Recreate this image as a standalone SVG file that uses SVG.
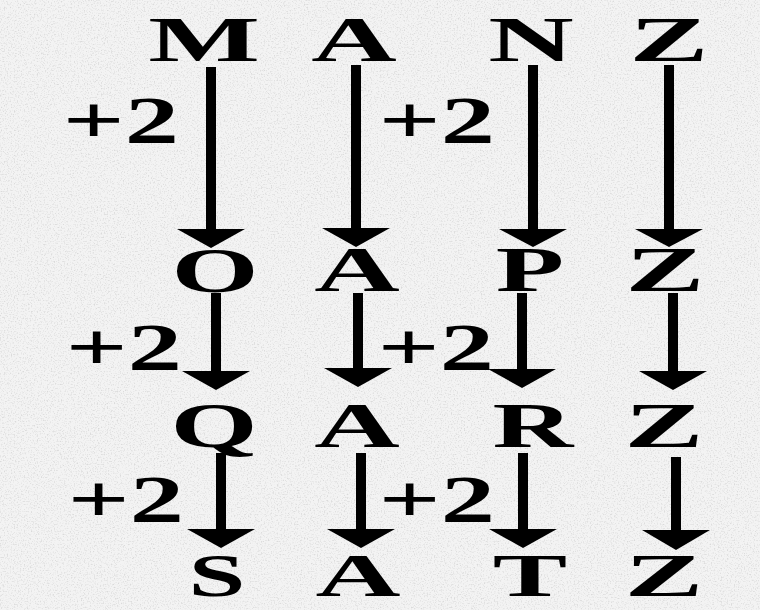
<svg xmlns="http://www.w3.org/2000/svg" width="760" height="610" viewBox="0 0 760 610">
<defs>
<filter id="paper" x="0" y="0" width="100%" height="100%">
<feTurbulence type="fractalNoise" baseFrequency="0.7" numOctaves="2" seed="3" result="n"/>
<feColorMatrix in="n" type="matrix" values="0 0 0 0 0.5  0 0 0 0 0.5  0 0 0 0 0.5  0 0 0 -3 1.5" result="g"/>
<feComposite in="g" in2="SourceGraphic" operator="in"/>
</filter>
<style>
.L{font-family:"Liberation Serif","Times New Roman",serif;font-weight:bold;font-size:64px;fill:#000;text-anchor:middle}
.B{font-family:"Liberation Serif","Times New Roman",serif;font-weight:bold;font-size:62px;fill:#000;text-anchor:middle}
.P{font-family:"Liberation Serif","Times New Roman",serif;font-weight:bold;font-size:67px;fill:#000;text-anchor:end}
.s{stroke:#000;stroke-width:10;fill:none}
.h{fill:#000}
</style>
</defs>
<rect width="760" height="610" fill="#f3f3f3"/>
<rect width="760" height="610" fill="#f3f3f3" filter="url(#paper)" opacity="0.45"/>

<g id="connectors">
<line class="s" x1="211" y1="67" x2="211" y2="232"/><polygon class="h" points="177,229 245,229 211,248"/>
<line class="s" x1="356" y1="65" x2="356" y2="231"/><polygon class="h" points="322,228 390,228 356,247"/>
<line class="s" x1="533" y1="65" x2="533" y2="232"/><polygon class="h" points="499,229 567,229 533,247"/>
<line class="s" x1="669" y1="65" x2="669" y2="232"/><polygon class="h" points="635,229 703,229 669,247"/>
<line class="s" x1="216" y1="293" x2="216" y2="374"/><polygon class="h" points="182,371 250,371 216,390"/>
<line class="s" x1="358" y1="293" x2="358" y2="371"/><polygon class="h" points="324,368 392,368 358,387"/>
<line class="s" x1="522" y1="293" x2="522" y2="372"/><polygon class="h" points="488,369 556,369 522,388"/>
<line class="s" x1="673" y1="293" x2="673" y2="374"/><polygon class="h" points="639,371 707,371 673,390"/>
<line class="s" x1="221" y1="453" x2="221" y2="532"/><polygon class="h" points="187,529 255,529 221,548"/>
<line class="s" x1="361" y1="453" x2="361" y2="532"/><polygon class="h" points="327,529 395,529 361,548"/>
<line class="s" x1="523" y1="453" x2="523" y2="532"/><polygon class="h" points="489,529 557,529 523,548"/>
<line class="s" x1="676" y1="457" x2="676" y2="533"/><polygon class="h" points="642,530 710,530 676,550"/>
</g>

<g id="labels">
<text class="P" transform="translate(179,143) scale(1.62,1)">+2</text>
<text class="P" transform="translate(495,143) scale(1.62,1)">+2</text>
<text class="P" transform="translate(182,370) scale(1.62,1)">+2</text>
<text class="P" transform="translate(494,370) scale(1.62,1)">+2</text>
<text class="P" transform="translate(184,522) scale(1.62,1)">+2</text>
<text class="P" transform="translate(495,522) scale(1.62,1)">+2</text>
</g>

<g id="row1">
<g id="n-M"><text class="L" transform="translate(204,61) scale(1.85,1)">M</text></g>
<g id="n-A1"><text class="L" transform="translate(354,61) scale(1.85,1)">A</text></g>
<g id="n-N"><text class="L" transform="translate(531,61) scale(1.85,1)">N</text></g>
<g id="n-Z1"><text class="L" transform="translate(669,61) scale(1.85,1)">Z</text></g>
</g>
<g id="row2">
<g id="n-O"><text class="L" transform="translate(215,292) scale(1.75,1)">O</text></g>
<g id="n-A2"><text class="L" transform="translate(357,291) scale(1.85,1)">A</text></g>
<g id="n-P"><text class="L" transform="translate(530,291) scale(1.75,1)">P</text></g>
<g id="n-Z2"><text class="L" transform="translate(665,291) scale(1.85,1)">Z</text></g>
</g>
<g id="row3">
<g id="n-Q"><text class="L" transform="translate(214,447) scale(1.75,1)">Q</text></g>
<g id="n-A3"><text class="L" transform="translate(357,447) scale(1.85,1)">A</text></g>
<g id="n-R"><text class="L" transform="translate(533,447) scale(1.75,1)">R</text></g>
<g id="n-Z3"><text class="L" transform="translate(664,447) scale(1.85,1)">Z</text></g>
</g>
<g id="row4">
<g id="n-S"><text class="B" transform="translate(217,596) scale(1.65,1)">S</text></g>
<g id="n-A4"><text class="B" transform="translate(358,596) scale(1.9,1)">A</text></g>
<g id="n-T"><text class="B" transform="translate(530,596) scale(1.8,1)">T</text></g>
<g id="n-Z4"><text class="B" transform="translate(664,596) scale(1.9,1)">Z</text></g>
</g>
</svg>
